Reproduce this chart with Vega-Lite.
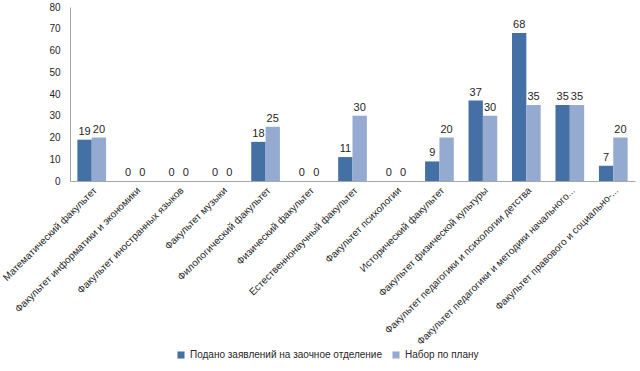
{
  "$schema": "https://vega.github.io/schema/vega-lite/v6.json",
  "autosize": {"type": "none"},
  "width": 565,
  "height": 174,
  "padding": {"left": 70, "top": 7, "right": 5, "bottom": 190},
  "background": "white",
  "config": {
    "font": "Liberation Sans",
    "view": {"stroke": null}
  },
  "data": {
    "values": [
      {"cat": "Математический факультет", "series": "Подано заявлений на заочное отделение", "value": 19},
      {"cat": "Математический факультет", "series": "Набор по плану", "value": 20},
      {"cat": "Факультет информатики и экономики", "series": "Подано заявлений на заочное отделение", "value": 0},
      {"cat": "Факультет информатики и экономики", "series": "Набор по плану", "value": 0},
      {"cat": "Факультет иностранных языков", "series": "Подано заявлений на заочное отделение", "value": 0},
      {"cat": "Факультет иностранных языков", "series": "Набор по плану", "value": 0},
      {"cat": "Факультет музыки", "series": "Подано заявлений на заочное отделение", "value": 0},
      {"cat": "Факультет музыки", "series": "Набор по плану", "value": 0},
      {"cat": "Филологический факультет", "series": "Подано заявлений на заочное отделение", "value": 18},
      {"cat": "Филологический факультет", "series": "Набор по плану", "value": 25},
      {"cat": "Физический факультет", "series": "Подано заявлений на заочное отделение", "value": 0},
      {"cat": "Физический факультет", "series": "Набор по плану", "value": 0},
      {"cat": "Естественнонаучный факультет", "series": "Подано заявлений на заочное отделение", "value": 11},
      {"cat": "Естественнонаучный факультет", "series": "Набор по плану", "value": 30},
      {"cat": "Факультет психологии", "series": "Подано заявлений на заочное отделение", "value": 0},
      {"cat": "Факультет психологии", "series": "Набор по плану", "value": 0},
      {"cat": "Исторический факультет", "series": "Подано заявлений на заочное отделение", "value": 9},
      {"cat": "Исторический факультет", "series": "Набор по плану", "value": 20},
      {"cat": "Факультет физической культуры", "series": "Подано заявлений на заочное отделение", "value": 37},
      {"cat": "Факультет физической культуры", "series": "Набор по плану", "value": 30},
      {"cat": "Факультет педагогики и психологии детства", "series": "Подано заявлений на заочное отделение", "value": 68},
      {"cat": "Факультет педагогики и психологии детства", "series": "Набор по плану", "value": 35},
      {"cat": "Факультет педагогики и методики начального...", "series": "Подано заявлений на заочное отделение", "value": 35},
      {"cat": "Факультет педагогики и методики начального...", "series": "Набор по плану", "value": 35},
      {"cat": "Факультет правового и социально-...", "series": "Подано заявлений на заочное отделение", "value": 7},
      {"cat": "Факультет правового и социально-...", "series": "Набор по плану", "value": 20}
    ]
  },
  "encoding": {
    "x": {
      "field": "cat",
      "type": "nominal",
      "sort": null,
      "scale": {"paddingInner": 0.34, "paddingOuter": 0.17},
      "axis": {
        "title": null,
        "labelAngle": -45,
        "labelFontSize": 10,
        "labelColor": "#262626",
        "labelLimit": 300,
        "ticks": false,
        "domainColor": "#a6a6a6",
        "labelPadding": 4
      }
    },
    "xOffset": {
      "field": "series",
      "type": "nominal",
      "sort": ["Подано заявлений на заочное отделение", "Набор по плану"],
      "scale": {"paddingInner": 0, "paddingOuter": 0}
    },
    "y": {
      "field": "value",
      "type": "quantitative",
      "scale": {"domain": [0, 80]},
      "axis": {
        "title": null,
        "values": [0, 10, 20, 30, 40, 50, 60, 70, 80],
        "labelOverlap": false,
        "grid": false,
        "ticks": false,
        "labelFontSize": 10,
        "labelColor": "#262626",
        "labelPadding": 10,
        "domainColor": "#a6a6a6"
      }
    }
  },
  "layer": [
    {
      "mark": {"type": "bar"},
      "encoding": {
        "color": {
          "field": "series",
          "type": "nominal",
          "sort": ["Подано заявлений на заочное отделение", "Набор по плану"],
          "scale": {"range": ["#4470a6", "#94aad1"]},
          "legend": {
            "title": null,
            "orient": "none",
            "legendX": 106,
            "legendY": 343,
            "direction": "horizontal",
            "symbolType": "square",
            "symbolSize": 50,
            "symbolStrokeWidth": 0,
            "labelFontSize": 10,
            "labelLimit": 400,
            "labelColor": "#262626",
            "columnPadding": 8
          }
        }
      }
    },
    {
      "mark": {"type": "text", "dy": -8, "fontSize": 11, "color": "#262626"},
      "encoding": {
        "text": {"field": "value", "type": "quantitative"}
      }
    }
  ]
}
